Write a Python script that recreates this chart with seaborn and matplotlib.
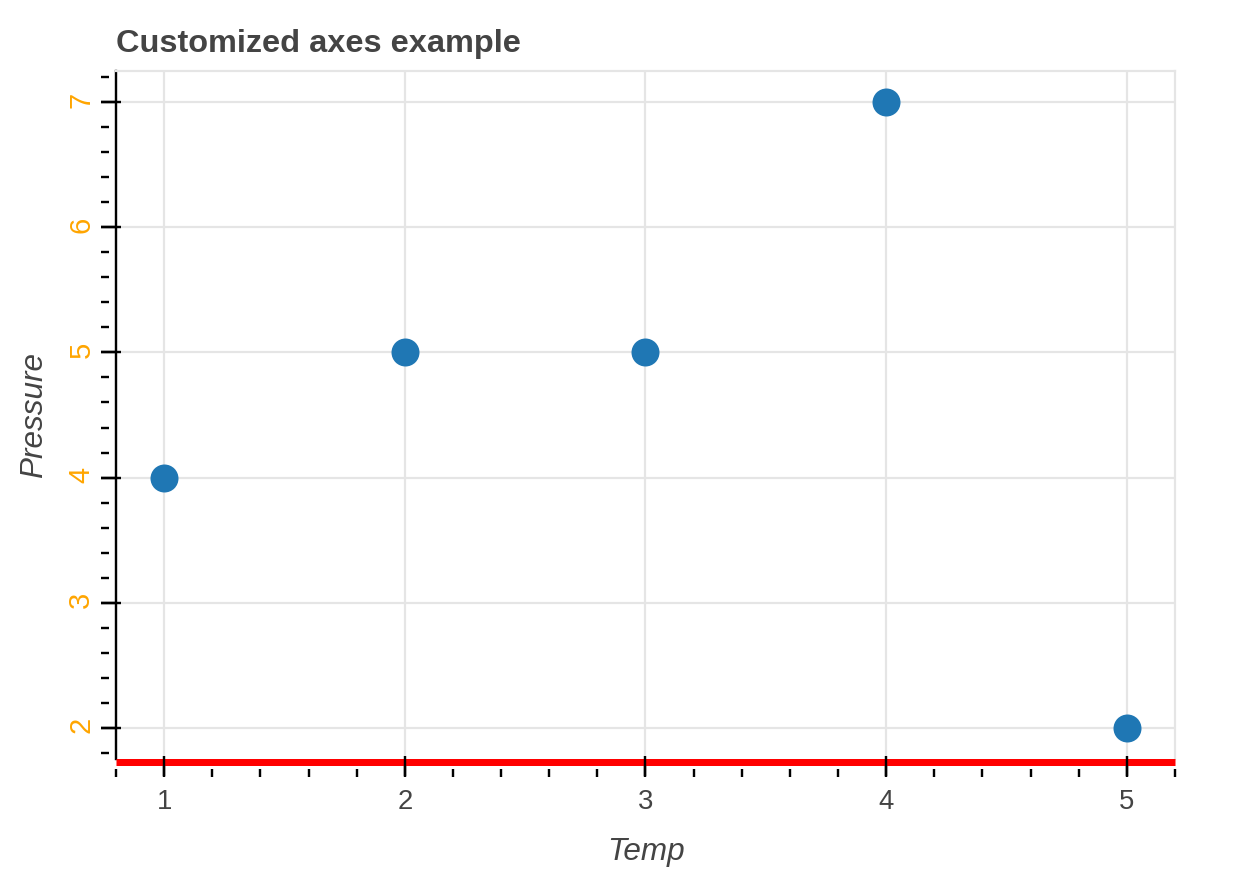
import matplotlib
matplotlib.use("Agg")
import matplotlib.pyplot as plt
import seaborn as sns
import pandas as pd
from matplotlib.ticker import MultipleLocator

# ---- data ----
temp = [1, 2, 3, 4, 5]
pressure = [4, 5, 5, 7, 2]
title = "Customized axes example"
x_label = "Temp"
y_label = "Pressure"

sns.set_theme(style="white")
plt.rcParams['font.family'] = ['Liberation Sans', 'DejaVu Sans']

PX = 72 / 100  # points per pixel at dpi=100
W, H = 1250, 875
L, R, T, B = 116, 1175, 71, 759
LW = 2.4 * PX

fig = plt.figure(figsize=(W / 100, H / 100), dpi=100)
pos = [L / W, 1 - B / H, (R - L) / W, (B - T) / H]
ax = fig.add_axes(pos)

df = pd.DataFrame({x_label: temp, y_label: pressure})
sns.scatterplot(data=df, x=x_label, y=y_label, ax=ax, s=(28 * PX) ** 2,
                color="#1f77b4", linewidth=0, zorder=3)

xlim = (0.8, 5.2)
ylim = (1.75, 7.25)
ax.set_xlim(*xlim)
ax.set_ylim(*ylim)
ax.xaxis.set_major_locator(MultipleLocator(1))
ax.yaxis.set_major_locator(MultipleLocator(1))

ax.grid(True, which='major', color='#e5e5e5', linewidth=2.2 * PX)
ax.set_axisbelow(True)

ax.spines['left'].set_color('black')
ax.spines['left'].set_linewidth(LW)
ax.spines['bottom'].set_color('red')
ax.spines['bottom'].set_linewidth(7 * PX)
ax.spines['bottom'].set_capstyle('butt')
ax.spines['bottom'].set_position(('outward', 2.5 * PX))
for s in ('top', 'right'):
    ax.spines[s].set_color('#e5e5e5')
    ax.spines[s].set_linewidth(2.2 * PX)

ax.tick_params(which='major', direction='out', width=LW, color='black')
ax.tick_params(axis='x', which='major', length=14.5 * PX, labelsize=19.8,
               labelcolor='#444444', pad=9.1, bottom=True)
ax.tick_params(axis='y', which='major', length=15.3 * PX, labelsize=21,
               labelcolor='orange', pad=3.9, labelrotation=90, left=True)
ax.tick_params(which='minor', length=0)

ax.set_xlabel(x_label, fontsize=22.7, style='italic', color='#444444', labelpad=16)
ax.set_ylabel(y_label, fontsize=22.7, style='italic', color='#444444', labelpad=13)
ax.set_title(title, loc='left', fontsize=23.4, fontweight='bold',
             color='#444444', pad=14)


def overlay():
    a = fig.add_axes(pos)
    a.patch.set_visible(False)
    a.set_xlim(*xlim)
    a.set_ylim(*ylim)
    for s in a.spines.values():
        s.set_visible(False)
    a.xaxis.set_major_locator(MultipleLocator(1))
    a.yaxis.set_major_locator(MultipleLocator(1))
    a.grid(False)
    return a


# major ticks crossing the axis lines
axt = overlay()
axt.spines['bottom'].set_position(('outward', 7 * PX))
axt.spines['left'].set_position(('outward', 5.3 * PX))
axt.tick_params(which='major', direction='inout', length=20 * PX, width=LW,
                color='black', bottom=True, left=True,
                labelbottom=False, labelleft=False)
axt.tick_params(which='minor', length=0)

# minor ticks, offset outward from the axis lines
axm = overlay()
axm.spines['bottom'].set_position(('outward', 9.5 * PX))
axm.spines['left'].set_position(('outward', 7 * PX))
axm.xaxis.set_minor_locator(MultipleLocator(0.2))
axm.yaxis.set_minor_locator(MultipleLocator(0.2))
axm.tick_params(which='major', length=0, labelbottom=False, labelleft=False)
axm.tick_params(which='minor', direction='out', length=7.8 * PX, width=LW,
                color='black', bottom=True, left=True)

fig.savefig("out.png", dpi=100)
